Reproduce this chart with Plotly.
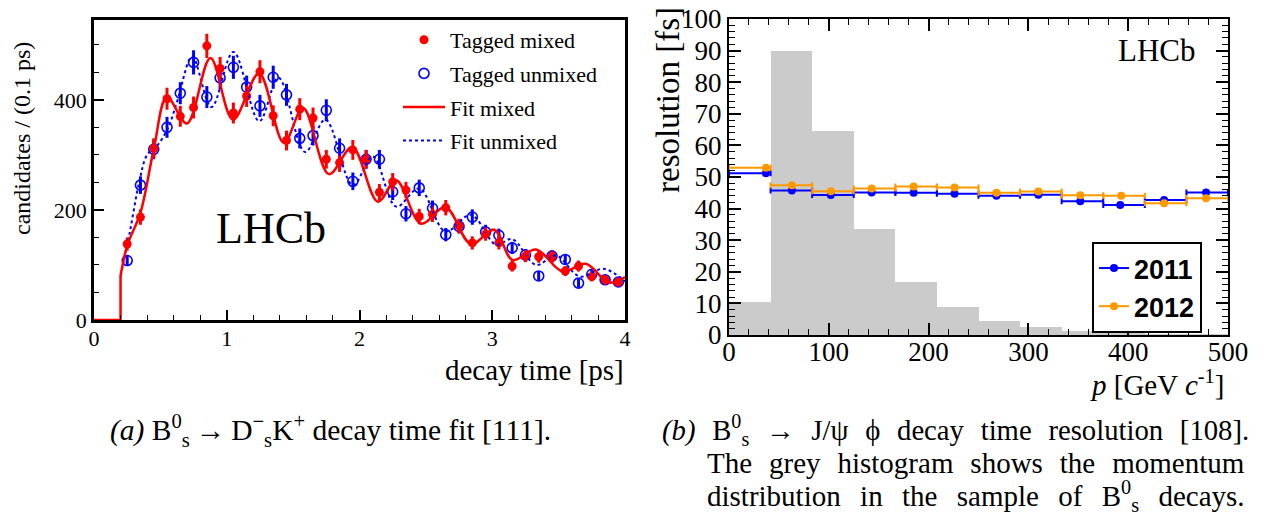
import plotly.graph_objects as go

W, H = 1262, 518

# ---------------- panel (a): Bs -> Ds K decay time ----------------
t_centres = [0.25, 0.35, 0.45, 0.55, 0.65, 0.75, 0.85, 0.95, 1.05, 1.15,
             1.25, 1.35, 1.45, 1.55, 1.65, 1.75, 1.85, 1.95, 2.05, 2.15,
             2.25, 2.35, 2.45, 2.55, 2.65, 2.75, 2.85, 2.95, 3.05, 3.15,
             3.25, 3.35, 3.45, 3.55, 3.65, 3.75, 3.85, 3.95]
mixed_counts = [138, 187, 312, 402, 370, 386, 498, 457, 376, 407,
                451, 371, 326, 383, 367, 292, 286, 309, 292, 232,
                251, 236, 188, 192, 204, 171, 140, 156, 140, 98,
                116, 115, 115, 89, 98, 79, 73, 69]
mixed_err = [12, 14, 18, 20, 19, 20, 22, 21, 19, 20,
             21, 19, 18, 20, 19, 17, 17, 18, 17, 15,
             16, 15, 14, 14, 14, 13, 12, 12, 12, 10,
             11, 11, 11, 9, 10, 9, 9, 8]
unmixed_counts = [108, 245, 310, 350, 412, 468, 405, 440, 459, 423,
                  389, 441, 409, 330, 335, 381, 312, 252, 292, 292,
                  233, 193, 240, 203, 155, 170, 187, 160, 154, 131,
                  118, 80, 116, 110, 67, 83, 73, 69]
unmixed_err = [10, 16, 18, 19, 20, 22, 20, 21, 21, 21,
               20, 21, 20, 18, 18, 20, 18, 16, 17, 17,
               15, 14, 15, 14, 12, 13, 14, 13, 12, 11,
               11, 9, 11, 10, 8, 9, 9, 8]

# fit curves (onset, then extrema)
onset_t = [0.0, 0.2, 0.2]
onset_y = [0, 0, 80]
fit_mixed_t = [0.2, 0.25, 0.35, 0.45, 0.55, 0.70, 0.877, 1.047, 1.243, 1.43,
               1.575, 1.77, 1.945, 2.138, 2.276, 2.464, 2.647, 2.84, 3.015, 3.153,
               3.33, 3.53, 3.704, 3.88, 4.0]
fit_mixed_y = [80, 135, 195, 310, 405, 357, 476, 364, 448, 322,
               385, 265, 314, 215, 254, 175, 205, 138, 164, 109,
               128, 88, 102, 68, 78]
fit_unmixed_t = [0.2, 0.27, 0.34, 0.40, 0.48, 0.56, 0.63, 0.74, 0.885, 1.05,
                 1.245, 1.39, 1.59, 1.743, 1.95, 2.10, 2.276, 2.45, 2.647, 2.84,
                 3.028, 3.15, 3.33, 3.48, 3.66, 3.84, 4.0]
fit_unmixed_y = [80, 160, 250, 300, 318, 350, 400, 478, 387, 487,
                 361, 440, 305, 364, 245, 297, 206, 239, 161, 191,
                 137, 147, 100, 117, 79, 93, 70]

# ---------------- panel (b): Bs -> J/psi phi resolution ----------------
p_edges = [0, 41.67, 83.33, 125, 166.67, 208.33, 250, 291.67, 333.33, 375,
           416.67, 458.33, 500]
p_hist = [10.5, 89.9, 64.6, 33.6, 16.8, 8.9, 4.4, 2.4, 1.2, 0.7, 0.3, 0.1]
p_mean_2011 = [37, 63, 102, 143, 185, 226, 268, 310, 352, 392, 436, 478]
res_2011 = [51.2, 45.7, 44.3, 45.1, 45.0, 44.7, 44.1, 44.4, 42.3, 41.1, 42.7, 45.1]
p_mean_2012 = [37, 63, 102, 143, 185, 226, 268, 310, 352, 393, 436, 478]
res_2012 = [52.9, 47.4, 45.5, 46.4, 47.0, 46.7, 45.0, 45.4, 44.2, 44.1, 41.7, 43.3]
res_err = [0.4] * 12

# ---------------- helpers ----------------
OFF = 8  # the page body margin shifts the figure by this many pixels


def px(x, y):
    return (x - OFF) / W, 1 - (y - OFF) / H


SERIF = "Liberation Serif"
SANS = "Liberation Sans"

fig = go.Figure()

# panel (a) traces
fig.add_trace(go.Scatter(
    x=t_centres, y=unmixed_counts, mode="markers", name="Tagged unmixed",
    marker=dict(symbol="circle-open", size=10, color="#0000ff", line=dict(width=1.6)),
    error_y=dict(type="data", array=unmixed_err, thickness=3, width=0, color="#0000ff"),
    legendgroup="g2", legendrank=2, xaxis="x", yaxis="y"))
fig.add_trace(go.Scatter(
    x=t_centres, y=mixed_counts, mode="markers", name="Tagged mixed",
    marker=dict(symbol="circle", size=9, color="#ff0000"),
    error_y=dict(type="data", array=mixed_err, thickness=3, width=0, color="#ff0000"),
    legendgroup="g1", legendrank=1, xaxis="x", yaxis="y"))
fig.add_trace(go.Scatter(
    x=fit_unmixed_t, y=fit_unmixed_y, mode="lines", name="Fit unmixed",
    line=dict(color="#0000ff", width=2, dash="dot", shape="spline", smoothing=1.0),
    legendgroup="g4", legendrank=4, xaxis="x", yaxis="y"))
fig.add_trace(go.Scatter(
    x=onset_t, y=onset_y, mode="lines", showlegend=False,
    line=dict(color="#ff0000", width=2.5), xaxis="x", yaxis="y"))
fig.add_trace(go.Scatter(
    x=fit_mixed_t, y=fit_mixed_y, mode="lines", name="Fit mixed",
    line=dict(color="#ff0000", width=2.5, shape="spline", smoothing=1.0),
    legendgroup="g3", legendrank=3, xaxis="x", yaxis="y"))

# panel (b) traces
centres = [(p_edges[i] + p_edges[i + 1]) / 2 for i in range(len(p_hist))]
widths = [p_edges[i + 1] - p_edges[i] for i in range(len(p_hist))]
fig.add_trace(go.Bar(
    x=centres, y=p_hist, width=widths, marker=dict(color="#cbcbcb", line=dict(width=0)),
    showlegend=False, xaxis="x2", yaxis="y2"))


def res_trace(pm, res, col, name):
    lo = [pm[i] - p_edges[i] for i in range(len(pm))]
    hi = [p_edges[i + 1] - pm[i] for i in range(len(pm))]
    return go.Scatter(
        x=pm, y=res, mode="markers", name=name, showlegend=False,
        marker=dict(symbol="circle", size=8, color=col),
        error_x=dict(type="data", array=hi, arrayminus=lo, thickness=2, width=3, color=col),
        error_y=dict(type="data", array=res_err, thickness=2, width=0, color=col),
        xaxis="x2", yaxis="y2")


fig.add_trace(res_trace(p_mean_2011, res_2011, "#0000ff", "2011"))
fig.add_trace(res_trace(p_mean_2012, res_2012, "#ff9900", "2012"))
for name, col in (("2011", "#0000ff"), ("2012", "#ff9900")):
    fig.add_trace(go.Scatter(
        x=[None], y=[None], mode="lines+markers", name=name, legend="legend2",
        marker=dict(symbol="circle", size=8, color=col),
        line=dict(color=col, width=2), xaxis="x2", yaxis="y2"))

# ---------------- layout ----------------
xa0, ya0 = px(94, 320)
xa1, ya1 = px(625, 20)
xb0, yb0 = px(729, 335)
xb1, yb1 = px(1228, 19)

axis_common = dict(showgrid=False, zeroline=False, showline=True, linecolor="black",
                   ticks="inside", tickcolor="black", automargin=False,
                   ticklabeloverflow="allow")

fig.update_layout(
    width=W, height=H, margin=dict(l=0, r=0, t=0, b=0, pad=0),
    paper_bgcolor="white", plot_bgcolor="white",
    font=dict(family=SERIF, color="black"),
    bargap=0,
    xaxis=dict(**axis_common, domain=[xa0, xa1], range=[0, 4], dtick=1, tick0=0,
               linewidth=2.5, mirror=True, ticklen=10, tickwidth=1.5, ticklabelstandoff=-3,
               minor=dict(dtick=0.2, ticklen=5, tickwidth=1.2, ticks="inside", tickcolor="black"),
               tickfont=dict(family=SERIF, size=22, color="black"), anchor="y"),
    yaxis=dict(**axis_common, domain=[ya0, ya1], range=[0, 545], dtick=200, tick0=0,
               linewidth=2.5, mirror=True, ticklen=10, tickwidth=1.5,
               minor=dict(dtick=50, ticklen=5, tickwidth=1.2, ticks="inside", tickcolor="black"),
               tickfont=dict(family=SERIF, size=22, color="black"), anchor="x"),
    xaxis2=dict(**axis_common, domain=[xb0, xb1], range=[0, 500], dtick=100, tick0=0,
                linewidth=2, mirror="ticks", ticklen=12, tickwidth=1.5, ticklabelstandoff=-8,
                minor=dict(dtick=20, ticklen=6, tickwidth=1.2, ticks="inside", tickcolor="black"),
                tickfont=dict(family=SERIF, size=27, color="black"), anchor="y2"),
    yaxis2=dict(**axis_common, domain=[yb0, yb1], range=[0, 100], dtick=10, tick0=0,
                linewidth=2, mirror="ticks", ticklen=12, tickwidth=1.5,
                minor=dict(dtick=2, ticklen=6, tickwidth=1.2, ticks="inside", tickcolor="black"),
                tickfont=dict(family=SERIF, size=27, color="black"), anchor="x2"),
    legend=dict(x=px(398, 0)[0], y=px(0, 19)[1], xanchor="left", yanchor="top",
                bgcolor="rgba(0,0,0,0)", borderwidth=0, traceorder="grouped",
                tracegroupgap=2, itemwidth=42,
                font=dict(family=SERIF, size=22, color="black")),
    legend2=dict(x=px(1092, 0)[0], y=px(0, 242)[1], xanchor="left", yanchor="top",
                 bgcolor="white", bordercolor="black", borderwidth=2,
                 font=dict(family=SANS, size=27, color="black", weight="bold")),
)


def note(text, x, y, size, family=SERIF, xanchor="center", yanchor="middle", angle=0):
    xx, yy = px(x, y)
    fig.add_annotation(text=text, x=xx, y=yy, xref="paper", yref="paper",
                       xanchor=xanchor, yanchor=yanchor, showarrow=False, textangle=angle,
                       font=dict(family=family, size=size, color="black"))


GAP1 = "\u2002\u200a"
GAP2 = "\u2002\u200a"
GAP3 = "\u2002\u200a\u200a"

# axis titles
note("candidates / (0.1 ps)", 22, 139, 24, angle=-90)
note("decay time [ps]", 626, 370, 29, xanchor="right")
note("resolution [fs]", 668, 100, 33, angle=-90)
note("<i>p</i> [GeV <i>c</i><sup>-1</sup>]", 1226, 383, 29, xanchor="right")
# experiment labels
note("LHCb", 271, 228, 44)
note("LHCb", 1157, 50, 31)
# captions
note("<i>(a)</i> B<sup>0</sup><sub>s</sub>\u2009→\u2009D<sup>−</sup><sub>s</sub>K<sup>+</sup> decay time fit [111].",
     330, 430, 29.5)
note(GAP1.join(["<i>(b)</i>", "B<sup>0</sup><sub>s</sub>", "→", "J/ψ", "ϕ", "decay", "time",
                "resolution", "[108]."]), 660, 430, 28.7, xanchor="left")
note(GAP2.join(["The", "grey", "histogram", "shows", "the", "momentum"]), 705, 463, 29, xanchor="left")
note(GAP3.join(["distribution", "in", "the", "sample", "of", "B<sup>0</sup><sub>s</sub>", "decays."]),
     705, 496, 29, xanchor="left")

fig.write_html("out.html")
